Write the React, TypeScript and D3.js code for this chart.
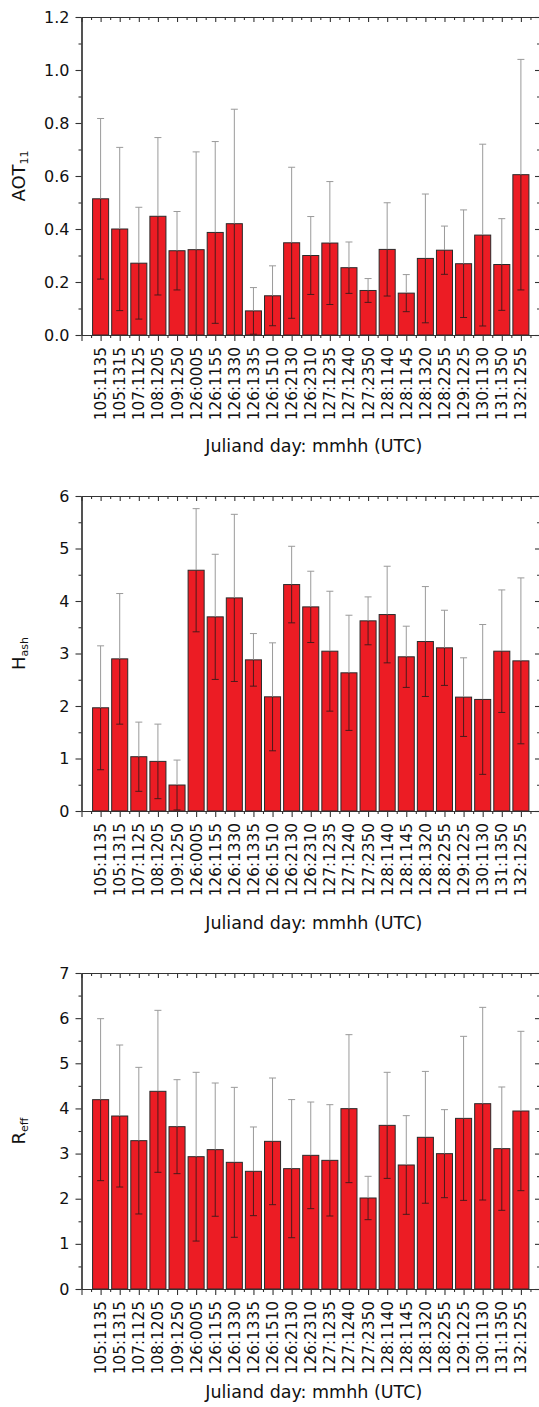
import React, { useEffect, useRef } from "react";
import * as d3 from "d3";

// category labels (julian day : hhmm)
const categories = [
  "105:1135", "105:1315", "107:1125", "108:1205", "109:1250", "126:0005",
  "126:1155", "126:1330", "126:1335", "126:1510", "126:2130", "126:2310",
  "127:1235", "127:1240", "127:2350", "128:1140", "128:1145", "128:1320",
  "128:2255", "129:1225", "130:1130", "131:1350", "132:1255",
];

// AOT 11 mean and std
const aotValues = [0.514, 0.4, 0.271, 0.448, 0.318, 0.322, 0.387, 0.42, 0.091, 0.148, 0.348, 0.3, 0.347, 0.254, 0.168, 0.323, 0.158, 0.289, 0.32, 0.269, 0.377, 0.266, 0.605];
const aotErrors = [0.303, 0.308, 0.211, 0.297, 0.148, 0.369, 0.343, 0.432, 0.088, 0.113, 0.285, 0.147, 0.232, 0.097, 0.045, 0.176, 0.07, 0.243, 0.091, 0.203, 0.343, 0.173, 0.435];
const aotTicks = [0, 0.2, 0.4, 0.6, 0.8, 1.0, 1.2];

// ash height
const hashValues = [1.966, 2.898, 1.034, 0.945, 0.495, 4.586, 3.698, 4.059, 2.879, 2.175, 4.313, 3.888, 3.044, 2.632, 3.622, 3.742, 2.937, 3.228, 3.108, 2.169, 2.125, 3.044, 2.86];
const hashErrors = [1.18, 1.244, 0.659, 0.71, 0.475, 1.173, 1.192, 1.592, 0.501, 1.028, 0.729, 0.679, 1.142, 1.097, 0.456, 0.92, 0.583, 1.047, 0.716, 0.749, 1.427, 1.167, 1.58];
const hashTicks = [0, 1, 2, 3, 4, 5, 6];

// effective radius
const reffValues = [4.194, 3.832, 3.286, 4.379, 3.596, 2.931, 3.087, 2.806, 2.607, 3.271, 2.666, 2.961, 2.85, 3.995, 2.016, 3.625, 2.747, 3.36, 2.998, 3.78, 4.105, 3.109, 3.943];
const reffErrors = [1.794, 1.573, 1.624, 1.794, 1.041, 1.869, 1.476, 1.661, 0.982, 1.403, 1.53, 1.181, 1.233, 1.639, 0.48, 1.175, 1.093, 1.46, 0.975, 1.817, 2.134, 1.366, 1.765];
const reffTicks = [0, 1, 2, 3, 4, 5, 6, 7];

const xTitle = "Juliand day: mmhh (UTC)";
const FONT = "'DejaVu Sans', Arial, sans-serif";

const panels = [
  { values: aotValues, errors: aotErrors, ticks: aotTicks, fmt: ".1f", label: "AOT", sub: "11", top: 17, bottom: 335, titleY: 452 },
  { values: hashValues, errors: hashErrors, ticks: hashTicks, fmt: "d", label: "H", sub: "ash", top: 496, bottom: 811, titleY: 929 },
  { values: reffValues, errors: reffErrors, ticks: reffTicks, fmt: "d", label: "R", sub: "eff", top: 973, bottom: 1289, titleY: 1398 },
];

export default function App() {
  const ref = useRef<SVGSVGElement>(null);

  useEffect(() => {
    const svg = d3.select(ref.current);
    svg.selectAll("*").remove();

    const left = 81.5;
    const right = 540;
    const x = d3.scaleLinear().domain([0, categories.length + 1]).range([left, right]);
    const halfBar = 0.42;

    const majorX = d3.range(0, categories.length + 2);
    const minorX = d3.range(0.5, categories.length + 1, 1);

    panels.forEach((p) => {
      const g = svg.append("g");
      const yMax = p.ticks[p.ticks.length - 1];
      const y = d3.scaleLinear().domain([0, yMax]).range([p.bottom, p.top]).clamp(true);
      const step = p.ticks[1] - p.ticks[0];
      const minorY = d3.range(step / 2, yMax, step);

      const rows = p.values.map((v, i) => ({ i, v, e: p.errors[i] }));

      // bars
      g.selectAll("rect.bar")
        .data(rows)
        .join("rect")
        .attr("class", "bar")
        .attr("x", (d) => x(d.i + 1 - halfBar))
        .attr("width", x(1 + halfBar) - x(1 - halfBar))
        .attr("y", (d) => y(d.v))
        .attr("height", (d) => y(0) - y(d.v))
        .attr("fill", "#ec1c24")
        .attr("stroke", "#2a2a2a")
        .attr("stroke-width", 1);

      // error bars: grey above the bar, dark inside it
      const eb = g.selectAll("g.err").data(rows).join("g").attr("class", "err");
      eb.append("line")
        .attr("x1", (d) => x(d.i + 1))
        .attr("x2", (d) => x(d.i + 1))
        .attr("y1", (d) => y(d.v))
        .attr("y2", (d) => y(d.v + d.e))
        .attr("stroke", "#9a9a9a");
      eb.append("line")
        .attr("x1", (d) => x(d.i + 1) - 3.5)
        .attr("x2", (d) => x(d.i + 1) + 3.5)
        .attr("y1", (d) => y(d.v + d.e))
        .attr("y2", (d) => y(d.v + d.e))
        .attr("stroke", "#9a9a9a");
      eb.append("line")
        .attr("x1", (d) => x(d.i + 1))
        .attr("x2", (d) => x(d.i + 1))
        .attr("y1", (d) => y(d.v))
        .attr("y2", (d) => y(d.v - d.e))
        .attr("stroke", "#3a1a1a")
        .attr("stroke-width", 0.9);
      eb.append("line")
        .attr("x1", (d) => x(d.i + 1) - 3.5)
        .attr("x2", (d) => x(d.i + 1) + 3.5)
        .attr("y1", (d) => y(d.v - d.e))
        .attr("y2", (d) => y(d.v - d.e))
        .attr("stroke", "#3a1a1a")
        .attr("stroke-width", 0.9)
        .attr("display", (d) => (d.v - d.e > 0 ? null : "none"));

      const styleAxis = (a: any) => {
        a.select(".domain").attr("stroke", "#333").attr("stroke-width", 1.2);
        a.selectAll(".tick line").attr("stroke", "#333").attr("stroke-width", 1.1);
      };

      // left axis
      g.append("g")
        .attr("transform", `translate(${left},0)`)
        .call(d3.axisLeft(y).tickValues(p.ticks).tickSize(6).tickSizeOuter(0).tickPadding(6).tickFormat(d3.format(p.fmt)))
        .call(styleAxis)
        .call((a) => a.selectAll("text").attr("font-family", FONT).attr("font-size", 16).attr("fill", "#111"));
      g.append("g")
        .attr("transform", `translate(${left},0)`)
        .call(d3.axisLeft(y).tickValues(minorY).tickSize(3).tickSizeOuter(0).tickFormat(() => ""))
        .call(styleAxis);

      // right axis, ticks inward
      g.append("g")
        .attr("transform", `translate(${right},0)`)
        .call(d3.axisLeft(y).tickValues(p.ticks).tickSize(5).tickSizeOuter(0).tickFormat(() => ""))
        .call(styleAxis);
      g.append("g")
        .attr("transform", `translate(${right},0)`)
        .call(d3.axisLeft(y).tickValues(minorY).tickSize(3).tickSizeOuter(0).tickFormat(() => ""))
        .call(styleAxis);

      // bottom axis
      g.append("g")
        .attr("transform", `translate(0,${p.bottom})`)
        .call(d3.axisBottom(x).tickValues(majorX).tickSize(6).tickSizeOuter(0).tickFormat(() => ""))
        .call(styleAxis);
      g.append("g")
        .attr("transform", `translate(0,${p.bottom})`)
        .call(d3.axisBottom(x).tickValues(minorX).tickSize(3).tickSizeOuter(0).tickFormat(() => ""))
        .call(styleAxis);

      // top axis, ticks inward
      g.append("g")
        .attr("transform", `translate(0,${p.top})`)
        .call(d3.axisBottom(x).tickValues(majorX).tickSize(5).tickSizeOuter(0).tickFormat(() => ""))
        .call(styleAxis);
      g.append("g")
        .attr("transform", `translate(0,${p.top})`)
        .call(d3.axisBottom(x).tickValues(minorX).tickSize(3).tickSizeOuter(0).tickFormat(() => ""))
        .call(styleAxis);

      // rotated category labels
      g.selectAll("text.cat")
        .data(categories)
        .join("text")
        .attr("class", "cat")
        .attr("transform", (d, i) => `translate(${x(i + 1)},${p.bottom + 12}) rotate(-90)`)
        .attr("text-anchor", "end")
        .attr("dy", "0.36em")
        .attr("font-family", FONT)
        .attr("font-size", 15.3)
        .attr("fill", "#111")
        .text((d) => d);

      // x title
      g.append("text")
        .attr("x", (left + right) / 2 + 3)
        .attr("y", p.titleY)
        .attr("text-anchor", "middle")
        .attr("font-family", FONT)
        .attr("font-size", 17.5)
        .attr("fill", "#111")
        .text(xTitle);

      // y title with subscript
      const yt = g.append("text")
        .attr("transform", `translate(25,${(p.top + p.bottom) / 2}) rotate(-90)`)
        .attr("text-anchor", "middle")
        .attr("font-family", FONT)
        .attr("font-size", 18)
        .attr("fill", "#111");
      yt.append("tspan").text(p.label);
      yt.append("tspan").attr("font-size", 11).attr("dy", "0.3em").text(p.sub);
    });
  }, []);

  return (
    <svg
      ref={ref}
      width={539}
      height={1407}
      style={{ position: "absolute", left: 0, top: 0, background: "#fff" }}
    />
  );
}
